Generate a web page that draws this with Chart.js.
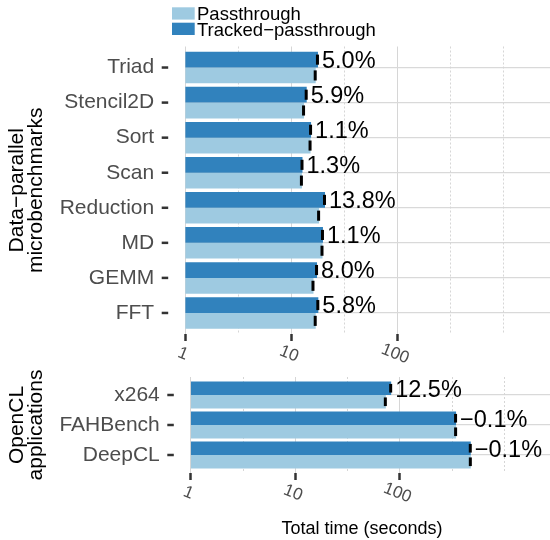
<!DOCTYPE html>
<html>
<head>
<meta charset="utf-8">
<script src="https://cdn.jsdelivr.net/npm/chart.js@4.4.1/dist/chart.umd.min.js"></script>
<style>
html, body { margin: 0; padding: 0; background: #fff; }
#wrap { position: relative; width: 550px; height: 540px; overflow: hidden; }
canvas { position: absolute; left: 0; }
</style>
</head>
<body>
<div id="wrap">
  <canvas id="topChart" width="550" height="370" style="top:0"></canvas>
  <canvas id="bottomChart" width="550" height="195" style="top:345px"></canvas>
</div>
<script>
// data-parallel microbenchmarks (seconds)
const microNames = ['Triad', 'Stencil2D', 'Sort', 'Scan', 'Reduction', 'MD', 'GEMM', 'FFT'];
const microPass = [17.0, 13.2, 15.2, 12.6, 18.3, 19.7, 16.2, 17.0];
const microTracked = [17.85, 13.98, 15.37, 12.76, 20.8, 19.9, 17.5, 17.99];
const microOverhead = [5.0, 5.9, 1.1, 1.3, 13.8, 1.1, 8.0, 5.8];

// OpenCL applications (seconds)
const appNames = ['x264', 'FAHBench', 'DeepCL'];
const appPass = [73.7, 347, 480];
const appTracked = [82.9, 346.7, 479.5];
const appOverhead = [12.5, -0.1, -0.1];

const majorTicks = [1, 10, 100];
const minorTicks = [3.162, 31.62, 316.2, 1000];
const seriesNames = ['Passthrough', 'Tracked\u2212passthrough'];
const seriesColors = ['#9ecae1', '#3182bd'];

const FONT = "'Liberation Sans', Arial, Helvetica, sans-serif";
Chart.defaults.font.family = FONT;

function fmtPct(v) {
    return (v < 0 ? '\u2212' : '') + Math.abs(v).toFixed(1) + '%';
}

// extra drawing: minor grid, axis ticks, rotated tick labels, error marks, overhead labels
const panelExtras = {
    id: 'panelExtras',
    beforeDatasetsDraw(chart) {
        const ctx = chart.ctx, area = chart.chartArea, xs = chart.scales.x;
        ctx.save();
        ctx.strokeStyle = '#d6d6d6';
        ctx.lineWidth = 1;
        ctx.setLineDash([2, 2]);
        minorTicks.forEach(function(v) {
            const px = Math.round(xs.getPixelForValue(v)) + 0.5;
            if (px > area.right) return;
            ctx.beginPath();
            ctx.moveTo(px, area.top);
            ctx.lineTo(px, area.bottom);
            ctx.stroke();
        });
        ctx.restore();
    },
    afterDatasetsDraw(chart, args, opts) {
        const ctx = chart.ctx, area = chart.chartArea, xs = chart.scales.x, ys = chart.scales.y;
        ctx.save();
        // error marks at bar ends
        ctx.fillStyle = '#000';
        [0, 1].forEach(function(d) {
            chart.getDatasetMeta(d).data.forEach(function(bar) {
                const h = bar.height * 0.64;
                ctx.fillRect(bar.x - 2, bar.y - h / 2, 3, h);
            });
        });
        // overhead labels next to the tracked bar
        ctx.font = '23.5px ' + FONT;
        ctx.textAlign = 'left';
        ctx.textBaseline = 'alphabetic';
        chart.getDatasetMeta(0).data.forEach(function(bar, i) {
            ctx.fillText(fmtPct(opts.overhead[i]), bar.x + 4, bar.y + 8.4);
        });
        // y tick marks (detached from the panel)
        ctx.fillStyle = '#333';
        opts.names.forEach(function(n, i) {
            const py = ys.getPixelForValue(i);
            ctx.fillRect(area.left - 23.5, py - 1.25, 6.5, 2.5);
        });
        // rotated x tick labels
        ctx.fillStyle = '#4d4d4d';
        ctx.font = '17px ' + FONT;
        ctx.textAlign = 'center';
        ctx.textBaseline = 'middle';
        majorTicks.forEach(function(v) {
            ctx.save();
            ctx.translate(xs.getPixelForValue(v) - 2.3, area.bottom + 20);
            ctx.rotate(22 * Math.PI / 180);
            ctx.fillText(String(v), 0, 0);
            ctx.restore();
        });
        ctx.restore();
    }
};

const legendPlugin = {
    id: 'legendBox',
    afterDraw(chart) {
        const ctx = chart.ctx;
        ctx.save();
        ctx.fillStyle = seriesColors[0];
        ctx.fillRect(172, 7.3, 22.7, 12.3);
        ctx.fillStyle = seriesColors[1];
        ctx.fillRect(172, 22.7, 22.7, 12.3);
        ctx.fillStyle = '#000';
        ctx.font = '18.5px ' + FONT;
        ctx.textBaseline = 'alphabetic';
        ctx.fillText(seriesNames[0], 197, 20);
        ctx.fillText(seriesNames[1], 197, 35.7);
        ctx.restore();
    }
};

const axisTitlePlugin = {
    id: 'axisTitle',
    afterDraw(chart) {
        const ctx = chart.ctx;
        ctx.save();
        ctx.fillStyle = '#000';
        ctx.font = '18px ' + FONT;
        ctx.textAlign = 'center';
        ctx.textBaseline = 'middle';
        ctx.fillText('Total time (seconds)', 362, chart.height - 11);
        ctx.restore();
    }
};

function makePanel(canvasId, names, pass, tracked, overhead, title, box, plugins) {
    const ctx = document.getElementById(canvasId).getContext('2d');
    return new Chart(ctx, {
        type: 'bar',
        data: {
            datasets: [{
                label: seriesNames[1],
                data: tracked.map(function(v, i) { return {x: v, y: i}; }),
                backgroundColor: seriesColors[1]
            }, {
                label: seriesNames[0],
                data: pass.map(function(v, i) { return {x: v, y: i}; }),
                backgroundColor: seriesColors[0]
            }]
        },
        options: {
            indexAxis: 'y',
            responsive: false,
            animation: false,
            devicePixelRatio: 1,
            categoryPercentage: 0.9,
            barPercentage: 1.0,
            layout: {padding: {top: box.top, right: 0, bottom: 0, left: 0}},
            plugins: {
                legend: {display: false},
                tooltip: {enabled: false},
                panelExtras: {names: names, overhead: overhead}
            },
            scales: {
                x: {
                    type: 'logarithmic',
                    min: 1,
                    max: 2750,
                    border: {display: false},
                    grid: {color: '#d6d6d6', lineWidth: 1, tickColor: '#333', tickWidth: 2.5, tickLength: 7},
                    ticks: {display: false},
                    afterBuildTicks: function(scale) {
                        scale.ticks = majorTicks.map(function(v) { return {value: v}; });
                    },
                    afterFit: function(scale) {
                        scale.height = box.canvasH - box.bottom;
                        scale.paddingLeft = 0;
                        scale.paddingRight = 0;
                    }
                },
                y: {
                    type: 'linear',
                    reverse: true,
                    min: -0.6,
                    max: names.length - 0.4,
                    offset: false,
                    border: {display: false},
                    grid: {color: '#d9d9d9', lineWidth: 1.3, drawTicks: false, offset: false},
                    ticks: {
                        color: '#4d4d4d',
                        font: {size: 21},
                        padding: 31,
                        callback: function(v) { return names[v]; }
                    },
                    afterBuildTicks: function(scale) {
                        scale.ticks = names.map(function(n, i) { return {value: i}; });
                    },
                    title: {
                        display: true,
                        text: title,
                        color: '#000',
                        font: {size: 21, lineHeight: 0.9},
                        padding: {top: 7.6, bottom: 0}
                    },
                    afterFit: function(scale) {
                        scale.width = box.left;
                        scale.paddingTop = 0;
                        scale.paddingBottom = 0;
                    }
                }
            }
        },
        plugins: [panelExtras].concat(plugins)
    });
}

makePanel('topChart', microNames, microPass, microTracked, microOverhead,
    ['Data\u2212parallel', 'microbenchmarks'],
    {left: 185.2, top: 46.5, bottom: 334, canvasH: 370}, [legendPlugin]);

makePanel('bottomChart', appNames, appPass, appTracked, appOverhead,
    ['OpenCL', 'applications'],
    {left: 190.8, top: 32, bottom: 128, canvasH: 195}, [axisTitlePlugin]);
</script>
</body>
</html>
